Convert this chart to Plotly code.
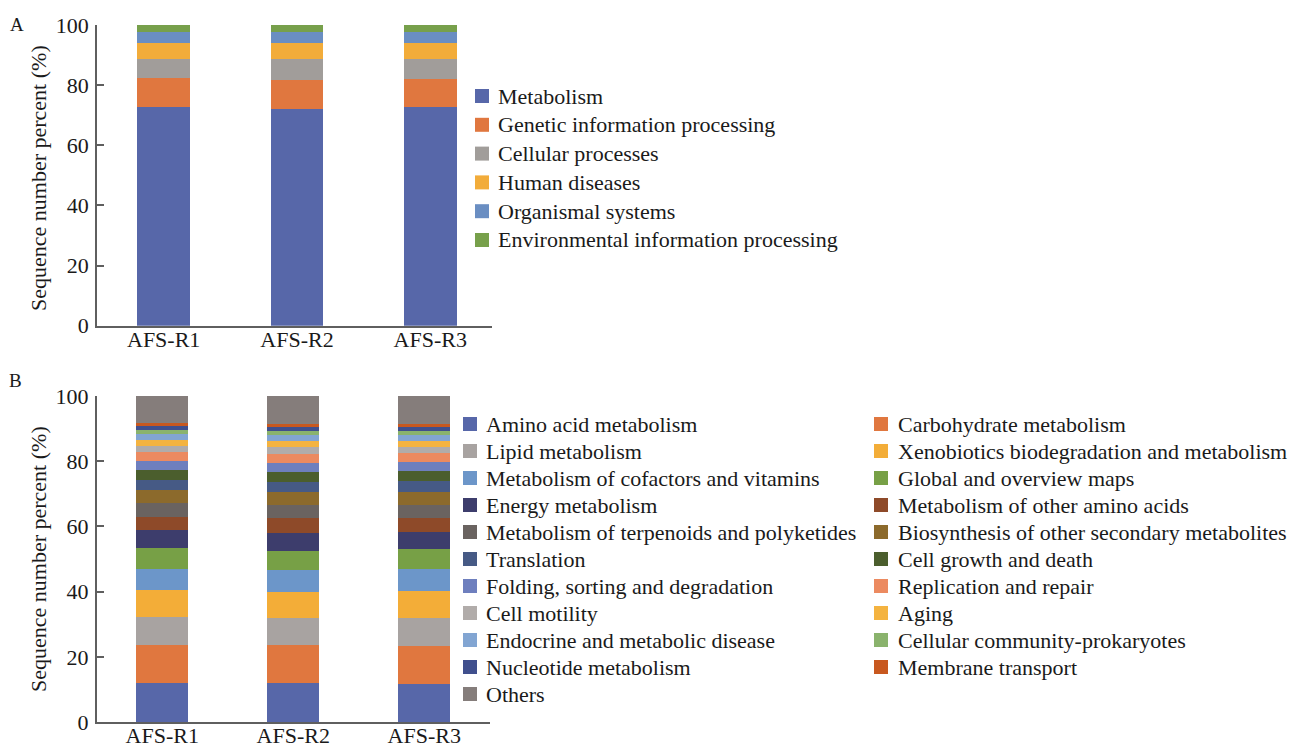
import plotly.graph_objects as go

# ---------------------------------------------------------------- data
samples = ["AFS-R1", "AFS-R2", "AFS-R3"]

# Panel A: KEGG level-1 categories (% of sequences)
level1_names = [
    "Metabolism",
    "Genetic information processing",
    "Cellular processes",
    "Human diseases",
    "Organismal systems",
    "Environmental information processing",
]
metabolism = [72.8, 72.1, 72.6]
genetic_info = [9.6, 9.6, 9.3]
cellular_proc = [6.3, 7.0, 6.8]
human_diseases = [5.3, 5.2, 5.3]
organismal_sys = [3.6, 3.7, 3.6]
environmental_info = [2.4, 2.4, 2.4]

# Panel B: KEGG level-2 categories (% of sequences)
level2_names = [
    "Amino acid metabolism",
    "Carbohydrate metabolism",
    "Lipid metabolism",
    "Xenobiotics biodegradation and metabolism",
    "Metabolism of cofactors and vitamins",
    "Global and overview maps",
    "Energy metabolism",
    "Metabolism of other amino acids",
    "Metabolism of terpenoids and polyketides",
    "Biosynthesis of other secondary metabolites",
    "Translation",
    "Cell growth and death",
    "Folding, sorting and degradation",
    "Replication and repair",
    "Cell motility",
    "Aging",
    "Endocrine and metabolic disease",
    "Cellular community-prokaryotes",
    "Nucleotide metabolism",
    "Membrane transport",
    "Others",
]
amino_acid = [12.1, 12.1, 11.8]
carbohydrate = [11.6, 11.4, 11.5]
lipid = [8.4, 8.4, 8.7]
xenobiotics = [8.3, 8.0, 8.3]
cofactors = [6.6, 6.8, 6.6]
global_maps = [6.3, 5.9, 6.1]
energy = [5.6, 5.5, 5.3]
other_amino = [4.1, 4.4, 4.3]
terpenoids = [4.1, 4.1, 4.1]
secondary = [4.1, 3.9, 3.9]
translation = [3.1, 3.2, 3.3]
cell_growth = [3.1, 3.1, 3.1]
folding = [2.8, 2.8, 2.7]
replication = [2.5, 2.6, 2.7]
cell_motility = [2.1, 2.3, 2.0]
aging = [1.7, 1.7, 1.8]
endocrine = [1.8, 1.8, 1.9]
cell_community = [1.2, 1.2, 1.1]
nucleotide = [1.3, 1.3, 1.2]
membrane = [1.0, 1.0, 1.0]
others = [8.2, 8.5, 8.6]

y_ticks = [0, 20, 40, 60, 80, 100]
y_title = "Sequence number percent (%)"

# ---------------------------------------------------------------- styles
level1_values = [metabolism, genetic_info, cellular_proc,
                 human_diseases, organismal_sys, environmental_info]
level1_colors = ["#5767A9", "#E0773F", "#A19D9A", "#F2AC3A", "#6A8EC2", "#77A04B"]

level2_values = [amino_acid, carbohydrate, lipid, xenobiotics, cofactors,
                 global_maps, energy, other_amino, terpenoids, secondary,
                 translation, cell_growth, folding, replication, cell_motility,
                 aging, endocrine, cell_community, nucleotide, membrane, others]
level2_colors = [
    "#5767A9", "#E0773F", "#A8A3A1", "#F3AD38", "#6C96C9",
    "#77A046", "#3D3D6C", "#8E4A29", "#6A6360", "#8C6A2C",
    "#465A85", "#4B5E2D", "#6E7FBE", "#EC8A60", "#B1ACAA",
    "#F4B340", "#82A5D2", "#8AB36D", "#404F8D", "#C8581F",
    "#857D7B",
]

W, H = 1296, 748
FONT = "Liberation Serif, Times New Roman, serif"
AXIS_COLOR = "#5f5f5f"
TEXT_COLOR = "#1a1a1a"


def px_x(p):
    return p / W


def px_y(p):
    return 1 - p / H


fig = go.Figure()

for name, vals, col in zip(level1_names, level1_values, level1_colors):
    fig.add_trace(go.Bar(x=samples, y=vals, name=name, marker_color=col,
                         marker_line_width=0, width=0.395,
                         xaxis="x", yaxis="y", showlegend=False))

for name, vals, col in zip(level2_names, level2_values, level2_colors):
    fig.add_trace(go.Bar(x=samples, y=vals, name=name, marker_color=col,
                         marker_line_width=0, width=0.40,
                         xaxis="x2", yaxis="y2", showlegend=False))

axis_common = dict(
    showgrid=False, zeroline=False, showline=True,
    linecolor=AXIS_COLOR, linewidth=1.8, automargin=False,
    tickfont=dict(family=FONT, size=22, color=TEXT_COLOR),
)
yaxis_common = dict(
    axis_common, range=[0, 100], tickvals=y_ticks,
    ticks="inside", ticklen=7, tickwidth=1.8, tickcolor=AXIS_COLOR,
    ticklabelstandoff=2,
)
xaxis_common = dict(axis_common, ticks="", type="category", ticklabelstandoff=-7)

fig.update_layout(
    width=W, height=H,
    margin=dict(l=0, r=0, t=0, b=0, autoexpand=False),
    paper_bgcolor="white", plot_bgcolor="white",
    barmode="stack",
    showlegend=False,
    xaxis=dict(xaxis_common, domain=[px_x(97), px_x(492)], range=[-0.5, 2.463],
               anchor="y"),
    yaxis=dict(yaxis_common, domain=[px_y(325.7), px_y(25)], anchor="x"),
    xaxis2=dict(xaxis_common, domain=[px_x(96.7), px_x(489.7)], range=[-0.5, 2.5],
                anchor="y2"),
    yaxis2=dict(yaxis_common, domain=[px_y(722), px_y(396)], anchor="x2"),
)

# y-axis titles
for ty in (178, 559):
    fig.add_annotation(text=y_title, x=px_x(38), y=px_y(ty), xref="paper", yref="paper",
                       showarrow=False, textangle=-90, xanchor="center", yanchor="middle",
                       font=dict(family=FONT, size=22, color=TEXT_COLOR))

# panel letters
for letter, (lx, ly) in {"A": (17, 24), "B": (15, 380)}.items():
    fig.add_annotation(text=letter, x=px_x(lx), y=px_y(ly), xref="paper", yref="paper",
                       showarrow=False, xanchor="center", yanchor="middle",
                       font=dict(family=FONT, size=19, color=TEXT_COLOR))


def legend_entry(name, color, sq_left, text_left, yc, size, font_size):
    half = size / 2
    fig.add_shape(type="rect", xref="paper", yref="paper",
                  x0=px_x(sq_left), x1=px_x(sq_left + size),
                  y0=px_y(yc + half), y1=px_y(yc - half),
                  fillcolor=color, line=dict(width=0))
    fig.add_annotation(text=name, x=px_x(text_left - 1), y=px_y(yc),
                       xref="paper", yref="paper", showarrow=False,
                       xanchor="left", yanchor="middle",
                       font=dict(family=FONT, size=font_size, color=TEXT_COLOR))


# legend, panel A: one column
for i, (name, col) in enumerate(zip(level1_names, level1_colors)):
    legend_entry(name, col, 475, 497, 96 + 28.8 * i, 14, 22)

# legend, panel B: two columns filled row by row
for i, (name, col) in enumerate(zip(level2_names, level2_colors)):
    row, column = divmod(i, 2)
    sq_left, text_left = (463, 485) if column == 0 else (874, 897)
    legend_entry(name, col, sq_left, text_left, 424 + 27 * row, 14, 22)

fig.write_html("out.html")
